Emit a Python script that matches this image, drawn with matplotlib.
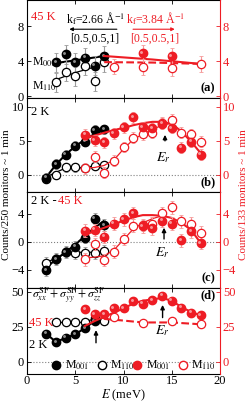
import numpy as np
import matplotlib
matplotlib.use('Agg')
import matplotlib.pyplot as plt
from matplotlib import transforms

plt.rcParams['font.family'] = ['Liberation Serif', 'DejaVu Serif']
plt.rcParams['mathtext.fontset'] = 'stix'

# panel (a), 45 K
a_E_blk = [3, 4, 5, 6, 7, 8]
a_blk_001 = [3.9, 4.8, 3.9, 4.4, 3.5, 4.6]
a_blk_110 = [1.6, 2.8, 2.3, 3.5, 1.7, 3.9]
a_E_red001 = [12, 15]
a_red_001 = [4.95, 4.6]
a_E_red110 = [9, 12, 15, 18]
a_red_110 = [3.4, 3.35, 3.2, 3.7]
a_fit_blk_E = [3, 5, 8]
a_fit_blk = [3.8, 4.1, 4.6]
a_fit_blk110_E = [3, 5, 7.5]
a_fit_blk110 = [1.9, 2.7, 3.5]
a_fit_red_E = [8, 13, 18]
a_fit_red = [4.6, 4.2, 3.7]
a_fit_red110_E = [8, 13, 18]
a_fit_red110 = [3.9, 3.85, 3.7]

# panel (b), 2 K
b_E_blk = [2, 3, 4, 5, 6, 7, 8]
b_blk_001 = [-0.4, 1.6, 3.0, 4.3, 4.9, 6.6, 6.7]
b_blk_110 = [-0.6, 0.0, 1.1, 1.1, 1.0, 1.3, 1.5]
b_E_red = [6, 7, 8, 9, 10, 11, 12, 13, 14, 15, 16, 17, 18]
b_red_001 = [5.9, 5.1, 4.8, 6.1, 7.0, 8.5, 7.0, 6.9, 7.5, 6.9, 4.0, 4.9, 3.0]
b_red_110 = [1.0, 2.7, 0.3, 2.1, 4.1, 5.5, 6.0, 6.2, 7.7, 8.1, 6.2, 6.0, 4.9]
b_fit_blk_E = [2, 3, 4, 5, 6, 7, 8]
b_fit_blk = [-0.3, 1.5, 3.0, 4.2, 5.2, 6.0, 6.6]
b_fit_blk110 = [-0.3, 0.4, 1.0, 1.0, 1.1, 1.3, 1.5]
b_fit_red_E = [6, 7, 8, 9, 10, 11, 12, 13, 14, 15, 16, 17, 18]
b_fit_red = [5.4, 5.8, 6.2, 6.6, 6.9, 7.3, 7.6, 7.8, 7.8, 7.5, 6.4, 4.9, 3.2]
b_fit_red110_E = [6, 7, 8, 9, 10, 11, 12, 13, 14, 15]
b_fit_red110 = [1.0, 1.1, 1.4, 2.2, 3.8, 5.2, 6.0, 6.7, 7.3, 7.6]

# panel (c), 2 K - 45 K
c_blk_001 = [-4.1, -2.5, -1.5, -0.7, 0.6, 3.3, 2.4]
c_blk_110 = [-3.0, -2.4, -1.4, -1.6, -1.6, -1.6, -1.3]
c_red_001 = [1.6, 1.7, 0.7, 2.6, 3.2, 4.1, 2.2, 1.9, 3.0, 2.6, 0.2, 1.5, -0.2]
c_red_110 = [-2.5, -0.3, -2.6, -1.4, 0.4, 2.3, 2.4, 2.6, 4.1, 4.9, 2.9, 2.6, 1.3]
c_fit_blk = [-3.7, -2.5, -1.5, -0.4, 0.8, 2.0, 3.0]
c_fit_blk110 = [-3.0, -2.3, -1.7, -1.5, -1.5, -1.5, -1.4]
c_fit_red = [1.0, 1.5, 2.0, 2.5, 3.0, 3.5, 3.8, 3.8, 3.7, 3.4, 2.7, 1.7, -0.2]
c_fit_red110_E = [6, 7, 8, 9, 10, 11, 12, 13, 14]
c_fit_red110 = [-2.3, -2.2, -2.0, -1.2, 0.3, 1.8, 2.7, 3.3, 3.7]

# panel (d), total SF
d_E_blk001 = [2, 3, 4, 5, 6, 7]
d_blk_001 = [20, 14, 17, 19.5, 24, 29]
d_E_blk110 = [3, 4, 5, 6, 7, 8]
d_blk_110 = [28, 28, 28, 28, 31, 29]
d_E_red001 = [6, 7, 8, 9, 10, 11, 12, 13, 14, 15, 16, 17, 18]
d_red_001 = [37.5, 34, 34, 38, 38, 43, 41.5, 44, 47, 43.5, 38.5, 35, 33]
d_E_red110 = [9, 12, 15, 18]
d_red_110 = [32, 27.4, 29, 26.7]
d_fit_red = [25.5, 29, 32, 35, 38, 41.5, 43.5, 44.5, 45.5, 43.5, 39, 35.5, 33]
d_fit_red110_E = [8, 9, 12, 15, 18]
d_fit_red110 = [30.5, 30, 28, 28, 26.7]

RED = '#ee1c24'
PINK = '#f59a9a'
GRAY = '#9a9a9a'
MS = 6

W, H = 249, 403
fig = plt.figure(figsize=(W / 100, H / 100), dpi=100)
left, width = 27 / W, 193 / W
rows = [(0, 98), (98, 192), (192, 288), (288, 374)]
ylims = [(-0.2, 11), (-2.5, 11.3), (-6.6, 7.1), (-8.8, 52.6)]
yticks = [[0, 4, 8], [0, 5, 10], [-4, 0, 4], [0, 25, 50]]
tags = ['(a)', '(b)', '(c)', '(d)']

axes = []
twins = []
for i, (t, b) in enumerate(rows):
    ax = fig.add_axes([left, (H - b) / H, width, (b - t) / H])
    ax.set_xlim(0, 20)
    ax.set_ylim(*ylims[i])
    ax.set_yticks(yticks[i])
    ax.set_xticks([0, 5, 10, 15, 20])
    ax.tick_params(direction='in', top=True, labelsize=9, length=3, width=0.6, pad=2)
    ax.tick_params(axis='x', pad=1)
    ax.spines['right'].set_visible(False)
    if i < 3:
        ax.tick_params(labelbottom=False)
    tw = ax.twinx()
    tw.set_ylim(*ylims[i])
    tw.set_yticks(yticks[i])
    tw.tick_params(direction='in', colors=RED, labelsize=9, length=3, width=0.6, pad=2)
    tw.spines['right'].set_color(RED)
    for s in ['left', 'top', 'bottom']:
        tw.spines[s].set_visible(False)
    if i > 0:
        ax.axhline(0, color='gray', ls=':', lw=0.8, zorder=0)
    axes.append(ax)
    twins.append(tw)


def balls(ax, x, y, err, color, ecolor, ms=MS):
    ax.errorbar(x, y, yerr=err, fmt='none', ecolor=ecolor, elinewidth=0.8,
                capsize=1.5, capthick=0.6, zorder=3)
    ax.plot(x, y, 'o', ms=ms, color=color, mec=color, zorder=4)
    hl = transforms.offset_copy(ax.transData, fig=fig, x=-1.0, y=1.0, units='points')
    ax.plot(x, y, 'o', ms=ms * 0.35, color='white', alpha=0.55, mew=0,
            transform=hl, zorder=5)


def rings(ax, x, y, err, color, ecolor, ms=MS):
    ax.errorbar(x, y, yerr=err, fmt='none', ecolor=ecolor, elinewidth=0.8,
                capsize=1.5, capthick=0.6, zorder=3)
    ax.plot(x, y, 'o', ms=ms, mfc='white', mec=color, mew=0.9, zorder=4)


# (a)
ax, tw = axes[0], twins[0]
ax.plot(a_fit_blk_E, a_fit_blk, color='k', lw=1.5, zorder=2)
ax.plot(a_fit_blk110_E, a_fit_blk110, color='k', lw=0.9, zorder=2)
tw.plot(a_fit_red_E, a_fit_red, color=RED, lw=1.5, zorder=2)
tw.plot(a_fit_red110_E, a_fit_red110, color=RED, lw=1.5, ls='--', zorder=2)
rings(ax, a_E_blk, a_blk_110, 1.1, 'k', GRAY)
balls(ax, a_E_blk, a_blk_001, 1.1, 'k', GRAY)
rings(tw, a_E_red110, a_red_110, 0.9, RED, PINK)
balls(tw, a_E_red001, a_red_001, 0.9, RED, PINK)
ax.text(0.4, 9.0, '45 K', color=RED, fontsize=9, va='center')
ax.text(7.05, 8.9, r'k$_\mathrm{f}$=2.66 Å$^{-1}$', fontsize=8.5, ha='center', va='center')
ax.annotate('', xy=(4.1, 7.66), xytext=(9.6, 7.66),
            arrowprops=dict(arrowstyle='-|>', color='k', lw=0.8, mutation_scale=5))
ax.text(7.05, 6.6, '[0.5,0.5,1]', fontsize=8.5, ha='center', va='center')
ax.text(13.3, 8.9, r'k$_\mathrm{f}$=3.84 Å$^{-1}$', fontsize=8.5, ha='center', va='center', color=RED)
ax.annotate('', xy=(15.6, 7.66), xytext=(10.7, 7.66),
            arrowprops=dict(arrowstyle='-|>', color=RED, lw=0.8, mutation_scale=5))
ax.text(13.2, 6.6, '[0.5,0.5,1]', fontsize=8.5, ha='center', va='center', color=RED)
ax.text(0.5, 3.9, r'M$_{001}$', fontsize=8.5, va='center')
ax.text(0.5, 1.1, r'M$_{110}$', fontsize=8.5, va='center')

# (b)
ax, tw = axes[1], twins[1]
ax.plot(b_fit_blk_E, b_fit_blk, color='k', lw=1.5, zorder=2)
ax.plot(b_fit_blk_E, b_fit_blk110, color='k', lw=0.9, zorder=2)
tw.plot(b_fit_red_E, b_fit_red, color=RED, lw=1.5, zorder=2)
tw.plot(b_fit_red110_E, b_fit_red110, color=RED, lw=0.9, zorder=2)
rings(ax, b_E_blk, b_blk_110, 0.6, 'k', GRAY)
balls(ax, b_E_blk, b_blk_001, 0.7, 'k', GRAY)
rings(tw, b_E_red, b_red_110, 0.8, RED, PINK)
balls(tw, b_E_red, b_red_001, 0.8, RED, PINK)
ax.text(0.4, 9.3, '2 K', fontsize=9, va='center')
ax.annotate('', xy=(14.3, 6.3), xytext=(14.3, 4.6),
            arrowprops=dict(arrowstyle='-|>', color='k', lw=1.0, mutation_scale=6))
ax.text(14.1, 2.6, r'$E_r$', fontsize=10, ha='center', va='center')

# (c)
ax, tw = axes[2], twins[2]
ax.plot(b_E_blk, c_fit_blk, color='k', lw=1.5, zorder=2)
ax.plot(b_E_blk, c_fit_blk110, color='k', lw=0.9, zorder=2)
tw.plot(b_fit_red_E, c_fit_red, color=RED, lw=1.5, zorder=2)
tw.plot(c_fit_red110_E, c_fit_red110, color=RED, lw=0.9, zorder=2)
rings(ax, b_E_blk, c_blk_110, 0.8, 'k', GRAY)
balls(ax, b_E_blk, c_blk_001, 0.8, 'k', GRAY)
rings(tw, b_E_red, c_red_110, 0.9, RED, PINK)
balls(tw, b_E_red, c_red_001, 0.9, RED, PINK)
ax.text(0.4, 5.8, '2 K - ', fontsize=9, va='center')
ax.text(3.2, 5.8, '45 K', fontsize=9, va='center', color=RED)
ax.annotate('', xy=(14.2, 2.4), xytext=(14.2, 0.0),
            arrowprops=dict(arrowstyle='-|>', color='k', lw=1.0, mutation_scale=6))
ax.text(14.0, -1.6, r'$E_r$', fontsize=10, ha='center', va='center')

# (d)
ax, tw = axes[3], twins[3]
ax.plot(d_E_blk001, d_blk_001, color='k', lw=1.5, zorder=2)
ax.plot(d_E_blk110, d_blk_110, color='k', lw=0.9, zorder=2)
tw.plot(d_E_red001, d_fit_red, color=RED, lw=1.5, zorder=2)
tw.plot(d_fit_red110_E, d_fit_red110, color=RED, lw=1.5, ls='--', zorder=2)
rings(ax, d_E_blk110, d_blk_110, 1.2, 'k', GRAY)
balls(ax, d_E_blk001, d_blk_001, 1.2, 'k', GRAY)
rings(tw, d_E_red110, d_red_110, 1.5, RED, PINK)
balls(tw, d_E_red001, d_red_001, 1.2, RED, PINK)
ax.text(0.5, 47.5, r'$\sigma_{xx}^{\rm SF}+\sigma_{yy}^{\rm SF}+\sigma_{zz}^{\rm SF}$',
        fontsize=8.5, va='center')
ax.text(0.2, 27.6, '45 K', fontsize=9, va='center', color=RED)
ax.text(0.2, 12, '2 K', fontsize=9, va='center')
ax.annotate('', xy=(14.05, 42.5), xytext=(14.05, 29.5),
            arrowprops=dict(arrowstyle='-|>', color='k', lw=1.0, mutation_scale=6))
ax.text(14.0, 22.5, r'$E_r$', fontsize=10, ha='center', va='center')
ax.annotate('', xy=(7.15, 24.5), xytext=(7.15, 11.5),
            arrowprops=dict(arrowstyle='-|>', color='k', lw=1.0, mutation_scale=6))

h1 = ax.plot([], [], 'o', ms=MS, color='k')[0]
h2 = ax.plot([], [], 'o', ms=MS, mfc='white', mec='k')[0]
h3 = ax.plot([], [], 'o', ms=MS, color=RED)[0]
h4 = ax.plot([], [], 'o', ms=MS, mfc='white', mec=RED)[0]
leg1 = ax.legend([h1, h2], [r'M$_{001}$', r'M$_{110}$'], ncol=2, frameon=False,
                 loc='center', bbox_to_anchor=(0.34, 0.1), fontsize=8.5,
                 handletextpad=0.2, columnspacing=0.6, handlelength=1.0)
ax.add_artist(leg1)
ax.legend([h3, h4], [r'M$_{001}$', r'M$_{110}$'], ncol=2, frameon=False,
          loc='center', bbox_to_anchor=(0.76, 0.1), fontsize=8.5,
          handletextpad=0.2, columnspacing=0.6, handlelength=1.0)

for ax, tag, lim in zip(axes, tags, ylims):
    yy = lim[0] + 0.1 * (lim[1] - lim[0])
    if tag == '(d)':
        yy = lim[1] - 0.08 * (lim[1] - lim[0])
    ax.text(19.5, yy, tag, fontsize=9, fontweight='bold', ha='right', va='center', zorder=6)

fig.text(0.5 * (27 + 220) / W, 1 - 395 / H, r'$E$ (meV)', fontsize=9,
         ha='center', va='center')
fig.text(7 / W, 1 - 195 / H, 'Counts/250 monitors ~ 1 min', rotation=90,
         fontsize=8, ha='center', va='center')
fig.text(243 / W, 1 - 195 / H, 'Counts/133 monitors ~ 1 min', rotation=90,
         fontsize=8, ha='center', va='center', color=RED)

fig.savefig('out.png', dpi=100)
